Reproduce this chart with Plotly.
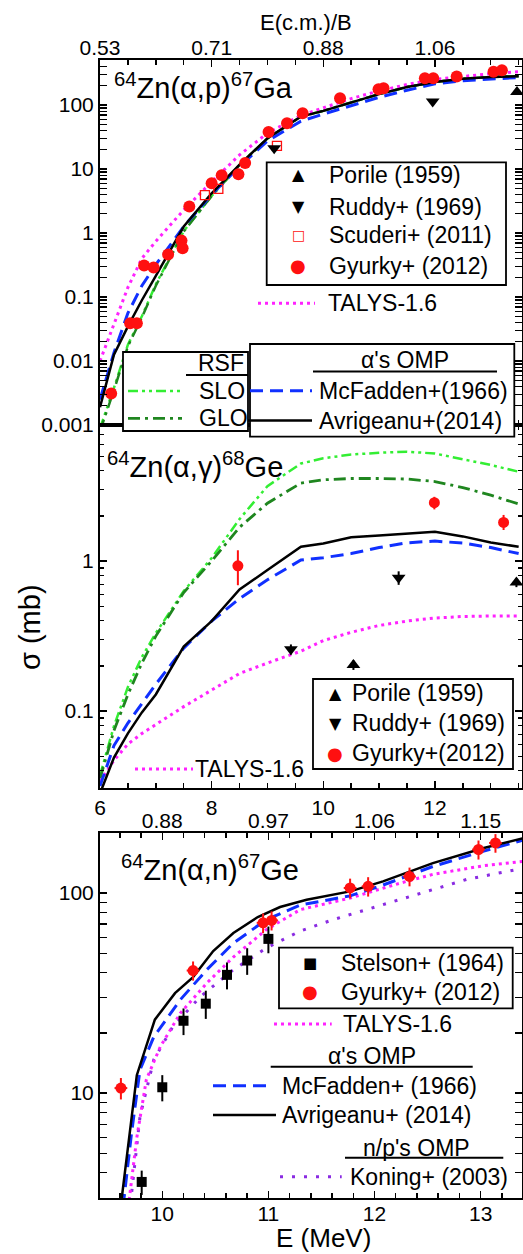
import plotly.graph_objects as go

W, H = 523, 1254
FONT = "Liberation Sans, Arial, sans-serif"


def X(px):
    return px / W


def Y(py):
    return 1 - py / H


# ---------------- data: 64Zn(a,p)67Ga ----------------
E_grid = [6.0, 6.25, 6.5, 6.75, 7.0, 7.5, 8.0, 8.5, 9.0, 9.6, 10.0, 10.5, 11.0, 11.5, 12.0, 12.5, 13.0, 13.5]
ap_avrigeanu = [0.0019, 0.0126, 0.0347, 0.089, 0.214, 1.26, 4.17, 11.7, 30.2, 66, 81, 110, 148, 191, 229, 257, 275, 282]
ap_mcfadden = [0.0025, 0.0135, 0.056, 0.15, 0.32, 1.26, 4.0, 11.0, 27.5, 56, 72, 98, 132, 170, 214, 240, 257, 269]
ap_talys = [0.010, 0.038, 0.141, 0.40, 0.74, 2.29, 6.3, 16.6, 36.3, 69, 91, 126, 166, 209, 251, 282, 309, 331]
ap_slo = [0.00089, 0.0038, 0.018, 0.050, 0.158, 1.07, 3.8, 11.5, 30, 66, 81, 110, 148, 191, 229, 257, 275, 282]
ap_glo = [0.0008, 0.0035, 0.017, 0.048, 0.150, 1.05, 3.8, 11.5, 30, 66, 81, 110, 148, 191, 229, 257, 275, 282]

ap_gyurky_E = [6.20, 6.54, 6.66, 6.79, 6.96, 7.22, 7.46, 7.48, 7.60, 8.00, 8.18, 8.48, 8.60, 9.02, 9.35, 9.63,
               10.30, 10.99, 11.08, 11.82, 11.97, 12.39, 13.05, 13.20]
ap_gyurky_s = [0.0031, 0.039, 0.039, 0.31, 0.29, 0.46, 0.76, 0.58, 2.6, 6.0, 8.0, 8.3, 12.4, 38, 52, 74,
               127, 176, 182, 261, 261, 278, 330, 350]
ap_scuderi_E = [7.88, 8.12, 9.17]
ap_scuderi_s = [3.9, 4.9, 23]
ap_ruddy_E = [9.12, 11.96]
ap_ruddy_s = [21, 113]
ap_porile_E = [13.47]
ap_porile_s = [160]

# ---------------- data: 64Zn(a,g)68Ge ----------------
ag_avrigeanu = [0.0282, 0.049, 0.071, 0.098, 0.129, 0.269, 0.398, 0.646, 0.871, 1.245, 1.31, 1.44, 1.48, 1.53, 1.57, 1.46, 1.33, 1.245]
ag_mcfadden = [0.0316, 0.0589, 0.0832, 0.112, 0.151, 0.263, 0.398, 0.562, 0.75, 1.016, 1.052, 1.122, 1.23, 1.324, 1.358, 1.318, 1.23, 1.122]
ag_slo = [0.0372, 0.0794, 0.1445, 0.229, 0.331, 0.631, 1.047, 1.905, 3.16, 4.47, 4.84, 5.13, 5.27, 5.36, 5.21, 4.79, 4.37, 3.94]
ag_glo = [0.0355, 0.0741, 0.129, 0.209, 0.316, 0.617, 1.0, 1.68, 2.43, 3.31, 3.48, 3.55, 3.55, 3.52, 3.39, 3.09, 2.75, 2.40]
ag_talys = [0.0339, 0.0468, 0.0603, 0.0708, 0.0813, 0.107, 0.138, 0.178, 0.209, 0.251, 0.295, 0.335, 0.372, 0.398, 0.417, 0.427, 0.430, 0.431]

ag_gyurky_E = [8.47, 11.99, 13.23]
ag_gyurky_s = [0.93, 2.45, 1.81]
ag_gyurky_up = [0.25, 0.23, 0.22]
ag_gyurky_dn = [0.24, 0.24, 0.20]
ag_gyurky_dE = [0.0, 0.08, 0.08]
ag_ruddy_E = [9.42, 11.35]
ag_ruddy_s = [0.258, 0.774]
ag_ruddy_err = [0.02, 0.08]
ag_porile_E = [10.54, 13.46]
ag_porile_s = [0.203, 0.72]
ag_porile_err = [0.015, 0.05]

# ---------------- data: 64Zn(a,n)67Ge ----------------
an_avrigeanu_E = [9.60, 9.76, 9.93, 10.12, 10.29, 10.48, 10.67, 10.90, 11.11, 11.36, 11.77, 12.08, 12.55, 13.03, 13.40]
an_avrigeanu_s = [2.5, 12.3, 23.3, 31.6, 38.0, 51.3, 63.1, 75.9, 85.1, 92.5, 101.9, 114.3, 141, 168, 188]
an_mcfadden_E = [9.63, 9.71, 9.79, 9.92, 10.17, 10.42, 10.67, 10.98, 11.30, 11.77, 12.08, 12.55, 13.03, 13.40]
an_mcfadden_s = [2.7, 6.3, 13.1, 19.1, 29.3, 41.4, 56.2, 73.6, 87.1, 96.8, 109.6, 135.8, 162, 184]
an_talys_E = [9.68, 9.76, 9.85, 9.98, 10.17, 10.42, 10.67, 10.98, 11.30, 11.77, 12.24, 12.55, 13.03, 13.40]
an_talys_s = [2.7, 6.0, 11.7, 17.0, 25.1, 35.5, 47.9, 65.6, 82.6, 94.4, 112, 124, 137, 144]
an_koning_E = [9.70, 9.79, 9.92, 10.10, 10.36, 10.67, 10.98, 11.30, 11.61, 11.93, 12.24, 12.55, 12.87, 13.40]
an_koning_s = [2.8, 7.64, 14.7, 21.5, 30.4, 41.4, 53.1, 64.6, 73.6, 82.6, 92.7, 104, 117, 133]

an_stelson_E = [9.806, 10.0, 10.20, 10.41, 10.61, 10.80, 11.0]
an_stelson_s = [3.6, 10.7, 23, 28, 39, 46, 59]
an_stelson_err = [0.5, 1.6, 3.5, 4.5, 6.0, 7.0, 9.0]
an_gyurky_E = [9.61, 10.29, 10.95, 11.03, 11.77, 11.94, 12.33, 12.98, 13.14]
an_gyurky_s = [10.6, 41, 71, 73, 106, 108, 121, 165, 178]
an_gyurky_err = [1.3, 4.5, 8, 8, 12, 12, 13, 18, 19]
an_gyurky_dE = [0.06, 0.06, 0.06, 0.06, 0.06, 0.06, 0.06, 0.06, 0.06]

# tick labels
ap_top_ticks = [6, 8, 10, 12]
ap_top_labels = ["0.53", "0.71", "0.88", "1.06"]
an_top_ticks = [10, 11, 12, 13]
an_top_labels = ["0.88", "0.97", "1.06", "1.15"]
ap_yticks = [0.001, 0.01, 0.1, 1, 10, 100]
ap_ylabels = ["0.001", "0.01", "0.1", "1", "10", "100"]
ag_yticks = [0.1, 1]
ag_ylabels = ["0.1", "1"]
an_yticks = [10, 100]
an_ylabels = ["10", "100"]

# ---------------- styles ----------------
C_BLACK = "black"
C_BLUE = "#1030ff"
C_MAG = "#ff22ff"
C_SLO = "#33ee33"
C_GLO = "#1f861f"
C_PUR = "#8a2be2"
C_RED = "#ff1010"
D_BLUE = "13px,7px"
D_MAG = "3px,4px"
D_SLO = "10px,4px,3px,4px,3px,4px"
D_GLO = "12px,5px,3px,5px"
D_PUR = "3px,9px"

fig = go.Figure()


def line(x, y, color, dash, width, xa, ya):
    fig.add_trace(go.Scatter(x=x, y=y, mode="lines", xaxis=xa, yaxis=ya,
                             line=dict(color=color, dash=dash, width=width), showlegend=False,
                             hoverinfo="skip"))


# top panel curves
line(E_grid, ap_slo, C_SLO, D_SLO, 2.5, "x", "y")
line(E_grid, ap_glo, C_GLO, D_GLO, 2.5, "x", "y")
line(E_grid, ap_talys, C_MAG, D_MAG, 3, "x", "y")
line(E_grid, ap_mcfadden, C_BLUE, D_BLUE, 3, "x", "y")
line(E_grid, ap_avrigeanu, C_BLACK, "solid", 2.5, "x", "y")

fig.add_trace(go.Scatter(x=ap_gyurky_E, y=ap_gyurky_s, mode="markers", xaxis="x", yaxis="y",
                         marker=dict(symbol="circle", size=12, color=C_RED), showlegend=False))
fig.add_trace(go.Scatter(x=ap_scuderi_E, y=ap_scuderi_s, mode="markers", xaxis="x", yaxis="y",
                         marker=dict(symbol="square-open", size=9, color=C_RED, line=dict(width=1.3)),
                         showlegend=False))
fig.add_trace(go.Scatter(x=ap_ruddy_E, y=ap_ruddy_s, mode="markers", xaxis="x", yaxis="y",
                         marker=dict(symbol="triangle-down", size=12, color=C_BLACK), showlegend=False))
fig.add_trace(go.Scatter(x=ap_porile_E, y=ap_porile_s, mode="markers", xaxis="x", yaxis="y",
                         marker=dict(symbol="triangle-up", size=12, color=C_BLACK), showlegend=False,
                         cliponaxis=False))

# middle panel curves
line(E_grid, ag_slo, C_SLO, D_SLO, 2.5, "x2", "y2")
line(E_grid, ag_glo, C_GLO, D_GLO, 2.8, "x2", "y2")
line(E_grid, ag_talys, C_MAG, D_MAG, 3, "x2", "y2")
line(E_grid, ag_mcfadden, C_BLUE, D_BLUE, 3, "x2", "y2")
line(E_grid, ag_avrigeanu, C_BLACK, "solid", 2.5, "x2", "y2")

fig.add_trace(go.Scatter(x=ag_gyurky_E, y=ag_gyurky_s, mode="markers", xaxis="x2", yaxis="y2",
                         marker=dict(symbol="circle", size=11, color=C_RED),
                         error_y=dict(type="data", array=ag_gyurky_up, arrayminus=ag_gyurky_dn,
                                      color=C_RED, thickness=2, width=0),
                         error_x=dict(type="data", array=ag_gyurky_dE, color=C_RED, thickness=2, width=0),
                         showlegend=False))
fig.add_trace(go.Scatter(x=ag_ruddy_E, y=ag_ruddy_s, mode="markers", xaxis="x2", yaxis="y2",
                         marker=dict(symbol="triangle-down", size=12, color=C_BLACK),
                         error_y=dict(type="data", array=ag_ruddy_err, color=C_BLACK, thickness=2, width=0),
                         showlegend=False))
fig.add_trace(go.Scatter(x=ag_porile_E, y=ag_porile_s, mode="markers", xaxis="x2", yaxis="y2",
                         marker=dict(symbol="triangle-up", size=12, color=C_BLACK),
                         error_y=dict(type="data", array=ag_porile_err, color=C_BLACK, thickness=2, width=0),
                         showlegend=False, cliponaxis=False))

# bottom panel curves
line(an_koning_E, an_koning_s, C_PUR, D_PUR, 3, "x3", "y3")
line(an_talys_E, an_talys_s, C_MAG, D_MAG, 3, "x3", "y3")
line(an_mcfadden_E, an_mcfadden_s, C_BLUE, D_BLUE, 3, "x3", "y3")
line(an_avrigeanu_E, an_avrigeanu_s, C_BLACK, "solid", 2.5, "x3", "y3")

fig.add_trace(go.Scatter(x=an_stelson_E, y=an_stelson_s, mode="markers", xaxis="x3", yaxis="y3",
                         marker=dict(symbol="square", size=10, color=C_BLACK),
                         error_y=dict(type="data", array=an_stelson_err, color=C_BLACK, thickness=2, width=0),
                         showlegend=False))
fig.add_trace(go.Scatter(x=an_gyurky_E, y=an_gyurky_s, mode="markers", xaxis="x3", yaxis="y3",
                         marker=dict(symbol="circle", size=11, color=C_RED),
                         error_y=dict(type="data", array=an_gyurky_err, color=C_RED, thickness=2, width=0),
                         error_x=dict(type="data", array=an_gyurky_dE, color=C_RED, thickness=2, width=0),
                         showlegend=False))

# empty traces so the top (overlaying) axes exist
fig.add_trace(go.Scatter(x=[], y=[], xaxis="x4", yaxis="y", showlegend=False))
fig.add_trace(go.Scatter(x=[], y=[], xaxis="x5", yaxis="y3", showlegend=False))

TICKFONT = dict(family=FONT, size=21, color="black")
XDOM = [X(100), X(522)]


def minor_log(lo, hi):
    return [m * 10 ** d for d in range(lo, hi) for m in range(2, 10)]


common_ax = dict(showgrid=False, zeroline=False, ticks="inside", tickcolor="black", tickwidth=1.5,
                 linecolor="black", linewidth=2, tickfont=TICKFONT, automargin=False)

fig.update_layout(
    width=W, height=H, autosize=False,
    margin=dict(l=0, r=0, t=0, b=0, pad=0, autoexpand=False),
    paper_bgcolor="white", plot_bgcolor="white", showlegend=False,
    xaxis=dict(domain=XDOM, anchor="y", range=[6, 13.56], tickmode="linear", tick0=6, dtick=2,
               showticklabels=False, ticklen=7, showline=True, mirror=True,
               minor=dict(dtick=0.5, tick0=6, ticks="inside", ticklen=5, tickwidth=1.5, tickcolor="black"),
               **common_ax),
    xaxis4=dict(overlaying="x", side="top", anchor="y", range=[6, 13.56], tickmode="array",
                tickvals=ap_top_ticks, ticktext=ap_top_labels, ticklen=7, showline=False,
                minor=dict(dtick=0.5, tick0=6, ticks="inside", ticklen=5, tickwidth=1.5, tickcolor="black"),
                **common_ax),
    yaxis=dict(domain=[Y(425), Y(60)], anchor="x", type="log", range=[-3, 2.703], tickmode="array",
               tickvals=ap_yticks, ticktext=ap_ylabels, ticklen=7, showline=True, mirror="allticks",
               minor=dict(tickvals=minor_log(-3, 3), ticks="inside", ticklen=4, tickwidth=1.2, tickcolor="black"),
               **common_ax),
    xaxis2=dict(domain=XDOM, anchor="y2", range=[6, 13.56], tickmode="linear", tick0=6, dtick=2,
                ticklen=7, showline=True, mirror="allticks",
                minor=dict(dtick=0.5, tick0=6, ticks="inside", ticklen=5, tickwidth=1.5, tickcolor="black"),
                **common_ax),
    yaxis2=dict(domain=[Y(788), Y(425)], anchor="x2", type="log", range=[-1.513, 0.907], tickmode="array",
                tickvals=ag_yticks, ticktext=ag_ylabels, ticklen=7, showline=True, mirror="allticks",
                minor=dict(tickvals=minor_log(-2, 1), ticks="inside", ticklen=4, tickwidth=1.2, tickcolor="black"),
                **common_ax),
    xaxis3=dict(domain=XDOM, anchor="y3", range=[9.413, 13.39], tickmode="linear", tick0=10, dtick=1,
                ticklen=7, showline=True, mirror=True, ticklabelstandoff=-4,
                minor=dict(dtick=0.2, tick0=10, ticks="inside", ticklen=5, tickwidth=1.5, tickcolor="black"),
                **common_ax),
    xaxis5=dict(overlaying="x3", side="top", anchor="y3", range=[9.413, 13.39], tickmode="array",
                tickvals=an_top_ticks, ticktext=an_top_labels, ticklen=7, showline=False,
                minor=dict(dtick=0.2, tick0=10, ticks="inside", ticklen=5, tickwidth=1.5, tickcolor="black"),
                **common_ax),
    yaxis3=dict(domain=[Y(1198), Y(833)], anchor="x3", type="log", range=[0.476, 2.30], tickmode="array",
                tickvals=an_yticks, ticktext=an_ylabels, ticklen=7, showline=True, mirror="allticks",
                minor=dict(tickvals=minor_log(0, 3), ticks="inside", ticklen=4, tickwidth=1.2, tickcolor="black"),
                **common_ax),
)

shapes = []
ann = []


def rect(x0, y0, x1, y1):
    shapes.append(dict(type="rect", xref="paper", yref="paper", x0=X(x0), x1=X(x1), y0=Y(y1), y1=Y(y0),
                       line=dict(color="black", width=1.8), fillcolor="white", layer="above"))


def seg(x0, x1, y, color="black", dash="solid", width=1.5):
    shapes.append(dict(type="line", xref="paper", yref="paper", x0=X(x0), x1=X(x1), y0=Y(y), y1=Y(y),
                       line=dict(color=color, dash=dash, width=width), layer="above"))


def txt(x, y, s, size=23, xanchor="left", color="black", family=FONT, angle=0, yanchor="middle"):
    ann.append(dict(x=X(x), y=Y(y), xref="paper", yref="paper", text=s, showarrow=False,
                    xanchor=xanchor, yanchor=yanchor, textangle=angle, borderpad=0,
                    font=dict(size=size, color=color, family=family)))


SYM = "DejaVu Sans"

# ---- top panel ----
txt(113, 86, "<sup>64</sup>Zn(α,p)<sup>67</sup>Ga", size=29)
rect(266.7, 162.3, 506, 285)
txt(298, 175, "▲", size=16, xanchor="center", family=SYM)
txt(298, 206.7, "▼", size=16, xanchor="center", family=SYM)
txt(298, 235, "□", size=14, xanchor="center", color=C_RED, family=SYM)
txt(298, 265.7, "●", size=18, xanchor="center", color=C_RED, family=SYM)
txt(328, 175, "Porile (1959)")
txt(328, 206.7, "Ruddy+ (1969)")
txt(328, 235, "Scuderi+ (2011)")
txt(328, 265.7, "Gyurky+ (2012)")
seg(258, 315, 303.3, C_MAG, D_MAG, 3)
txt(327, 303.3, "TALYS-1.6")

rect(123, 352, 248, 431)
txt(220.5, 363, "RSF", xanchor="center")
seg(186, 248, 375, width=2)
seg(128, 182, 391, C_SLO, D_SLO, 2.5)
txt(198, 391, "SLO")
seg(128, 182, 418.3, C_GLO, D_GLO, 2.8)
txt(198, 418.3, "GLO")

rect(250, 344, 514.3, 436.7)
txt(405, 360, "α's OMP", xanchor="center")
seg(313, 497, 371.5, width=2)
seg(250, 312, 390.7, C_BLUE, D_BLUE, 3)
txt(318, 390.7, "McFadden+(1966)")
seg(248, 312, 420.5, C_BLACK, "solid", 2.5)
txt(318, 420.5, "Avrigeanu+(2014)")

txt(306, 23, "E(c.m.)/B", size=22, xanchor="center")

# ---- middle panel ----
txt(106, 465, "<sup>64</sup>Zn(α,γ)<sup>68</sup>Ge", size=29)
rect(313, 679, 513, 769)
txt(335, 693, "▲", size=16, xanchor="center", family=SYM)
txt(335, 723, "▼", size=16, xanchor="center", family=SYM)
txt(335, 753, "●", size=18, xanchor="center", color=C_RED, family=SYM)
txt(351, 693, "Porile (1959)")
txt(351, 723, "Ruddy+ (1969)")
txt(351, 753, "Gyurky+(2012)")
seg(135, 193, 769, C_MAG, D_MAG, 3)
txt(194, 769, "TALYS-1.6")

txt(30, 627, "σ (mb)", size=29, xanchor="center", angle=-90)

# ---- bottom panel ----
txt(120, 868, "<sup>64</sup>Zn(α,n)<sup>67</sup>Ge", size=29)
rect(279, 947.7, 512.7, 1008.3)
txt(310, 962.7, "■", size=15, xanchor="center", family=SYM)
txt(310, 991.7, "●", size=18, xanchor="center", color=C_RED, family=SYM)
txt(340, 962.7, "Stelson+ (1964)")
txt(340, 991.7, "Gyurky+ (2012)")
seg(274, 331.7, 1024, C_MAG, D_MAG, 3)
txt(342, 1024, "TALYS-1.6")
txt(371.7, 1056, "α's OMP", xanchor="center")
seg(270.7, 472.7, 1066.7, width=2)
seg(213, 271.7, 1085.7, C_BLUE, D_BLUE, 3)
txt(281, 1085.7, "McFadden+ (1966)")
seg(213, 276, 1115, C_BLACK, "solid", 2.5)
txt(281, 1115, "Avrigeanu+ (2014)")
txt(416.7, 1148, "n/p's OMP", xanchor="center")
seg(345, 503.3, 1157.7, width=2)
seg(280, 341.7, 1176.7, C_PUR, D_PUR, 3)
txt(348.5, 1176.7, "Koning+ (2003)")

txt(323, 1254, "E (MeV)", size=26, xanchor="center", yanchor="bottom")

fig.update_layout(shapes=shapes, annotations=ann)
fig.write_html("out.html", config={"displayModeBar": False, "staticPlot": True},
               post_script="document.body.style.margin='0px';document.body.style.overflow='hidden';")
